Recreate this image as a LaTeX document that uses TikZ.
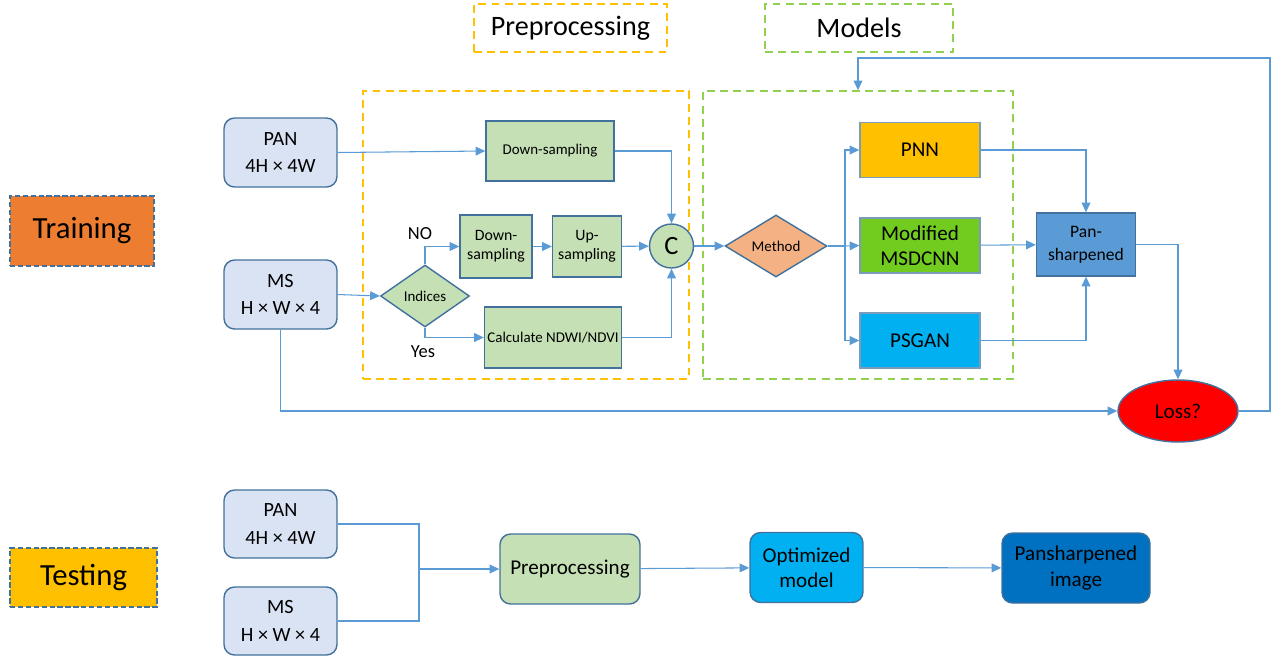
\documentclass[tikz,border=0pt]{standalone}
\usepackage{fontspec}
\setmainfont{Carlito}
\usetikzlibrary{positioning,arrows.meta,shapes.geometric,calc}

\definecolor{linkblue}{HTML}{5B9BD5}
\definecolor{edgeblue}{HTML}{41719C}
\definecolor{inputfill}{HTML}{DAE3F3}
\definecolor{stepfill}{HTML}{C5E0B4}
\definecolor{trainorange}{HTML}{ED7D31}
\definecolor{gold}{HTML}{FFC000}
\definecolor{leafgreen}{HTML}{92D050}
\definecolor{msdgreen}{HTML}{72CC20}
\definecolor{skyblue}{HTML}{00B0F0}
\definecolor{deepblue}{HTML}{0070C0}
\definecolor{methodfill}{HTML}{F4B183}

\begin{document}
\begin{tikzpicture}[
    x=0.02cm, y=-0.02cm,
    inputbox/.style={rectangle, draw=edgeblue, line width=0.8pt, fill=inputfill, rounded corners=6pt,
        minimum width=2.26cm, minimum height=1.38cm, align=center, font=\fontsize{11.5}{15.5}\selectfont},
    stepbox/.style={rectangle, draw=edgeblue, line width=0.8pt, fill=stepfill, align=center,
        font=\fontsize{8.5}{10}\selectfont, inner sep=1pt},
    modelbox/.style={rectangle, draw=edgeblue!70, line width=0.8pt, minimum width=2.4cm, minimum height=1.1cm,
        align=center, font=\fontsize{12}{14.5}\selectfont},
    testbox/.style={rectangle, draw=edgeblue, line width=0.8pt, rounded corners=6pt, minimum height=1.4cm,
        align=center, font=\fontsize{12}{14.5}\selectfont},
    phase/.style={rectangle, draw=edgeblue, line width=1pt, dash pattern=on 3pt off 1.5pt,
        font=\fontsize{17.5}{20}\selectfont},
    group/.style={rectangle, line width=0.9pt, dash pattern=on 4.5pt off 3pt, minimum height=5.76cm},
    header/.style={rectangle, line width=0.9pt, dash pattern=on 4.5pt off 3pt, minimum height=0.96cm,
        font=\fontsize{16}{18}\selectfont},
    arrow/.style={-{Triangle[length=5.5pt,width=5pt]}, draw=linkblue, line width=0.6pt},
    link/.style={draw=linkblue, line width=0.6pt}
]
\useasboundingbox (0,0) rectangle (1271,657);

% Phases
\node[phase, fill=trainorange, minimum width=2.88cm, minimum height=1.4cm] (train) at (82,231) {Training};
\node[phase, fill=gold, minimum width=2.94cm, minimum height=1.18cm] (test) at (83.5,577.5) {Testing};

% Headers and groups
\node[header, draw=gold, minimum width=3.86cm] (prephead) at (570.5,28) {Preprocessing};
\node[header, draw=leafgreen, minimum width=3.76cm] (modhead) at (859,28) {Models};
\node[group, draw=gold, minimum width=6.52cm] (prepgrp) at (526,235) {};
\node[group, draw=leafgreen, minimum width=6.2cm] (modgrp) at (858,235) {};

% Training inputs
\node[inputbox] (pantr) at (280.5,152.5) {PAN\\4H × 4W};
\node[inputbox] (mstr) at (280.5,294.5) {MS\\H × W × 4};

% Preprocessing
\node[stepbox, minimum width=2.56cm, minimum height=1.2cm] (dstop) at (550,151) {Down-sampling};
\node[stepbox, minimum width=1.44cm, minimum height=1.26cm, font=\fontsize{9}{10.5}\selectfont] (dsmid) at (496,246.5) {Down-\\sampling};
\node[stepbox, minimum width=1.38cm, minimum height=1.22cm, font=\fontsize{9}{10.5}\selectfont] (upmid) at (587,246.5) {Up-\\sampling};
\node[diamond, draw=edgeblue, line width=0.8pt, fill=stepfill, inner sep=0pt, minimum width=1.78cm,
    minimum height=1.24cm, font=\fontsize{8.5}{10}\selectfont] (indices) at (425,296) {Indices};
\node[stepbox, minimum width=2.74cm, minimum height=1.22cm] (calc) at (553,337.5) {Calculate NDWI/NDVI};
\node[circle, draw=edgeblue, line width=0.8pt, fill=stepfill, minimum size=0.88cm, inner sep=0pt,
    font=\fontsize{15}{17}\selectfont] (concat) at (671.5,246) {C};
\node[font=\fontsize{10.5}{12}\selectfont] (nolbl) at (420,234) {NO};
\node[font=\fontsize{10.5}{12}\selectfont] (yeslbl) at (423,352) {Yes};

% Models
\node[diamond, draw=edgeblue, line width=0.8pt, fill=methodfill, inner sep=0pt, minimum width=2.04cm,
    minimum height=1.24cm, font=\fontsize{8.5}{10}\selectfont] (method) at (776,246) {Method};
\node[modelbox, fill=gold] (pnn) at (920,150) {PNN};
\node[modelbox, fill=msdgreen] (msd) at (920,245.5) {Modified\\MSDCNN};
\node[modelbox, fill=skyblue] (psgan) at (920,340.5) {PSGAN};
\node[rectangle, draw=edgeblue, line width=0.8pt, fill=linkblue, minimum width=1.98cm, minimum height=1.26cm,
    align=center, font=\fontsize{10}{13}\selectfont] (pansh) at (1086,244.5) {Pan-\\sharpened};
\node[ellipse, draw=edgeblue, line width=0.8pt, fill=red, minimum width=2.4cm, minimum height=1.24cm,
    font=\fontsize{12}{14}\selectfont] (loss) at (1178,411) {Loss?};

% Training connectors
\draw[arrow] (pantr.east) -- (dstop.west);
\draw[arrow] (dstop.east) -| (concat.north);
\draw[arrow] (mstr.east) -- (indices.west);
\draw[arrow] (indices.north) |- (dsmid.west);
\draw[arrow] (dsmid) -- (upmid);
\draw[arrow] (upmid) -- (concat);
\draw[arrow] (indices.south) |- (calc.west);
\draw[arrow] (calc.east) -| (concat.south);
\draw[arrow] (concat) -- (method);
\coordinate (split) at (845,246);
\draw[link] (method.east) -- (split);
\draw[arrow] (split) |- (pnn.west);
\draw[arrow] (split) -- (msd.west);
\draw[arrow] (split) |- (psgan.west);
\draw[arrow] (pnn.east) -| (pansh.north);
\draw[arrow] (msd) -- (pansh);
\draw[arrow] (psgan.east) -| (pansh.south);
\draw[arrow] (pansh.east) -| (loss.north);
\draw[arrow] (mstr.south) |- (loss.west);
\coordinate (back) at (1270,58);
\draw[arrow] (loss.east) -| (back) -| (modgrp.north);

% Testing
\node[inputbox, minimum height=1.36cm] (panev) at (280.5,524) {PAN\\4H × 4W};
\node[inputbox, minimum height=1.36cm] (msev) at (280.5,621) {MS\\H × W × 4};
\node[testbox, fill=stepfill, minimum width=2.8cm] (prepev) at (570,569) {Preprocessing};
\node[testbox, fill=skyblue, minimum width=2.26cm] (optm) at (806.5,567.5) {Optimized\\model};
\node[testbox, fill=deepblue, minimum width=2.96cm] (pimg) at (1076,568) {Pansharpened\\image};
\coordinate (join) at (419,569);
\draw[link] (panev.east) -| (join);
\draw[link] (msev.east) -| (join);
\draw[arrow] (join) -- (prepev.west);
\draw[arrow] (prepev) -- (optm);
\draw[arrow] (optm) -- (pimg);

\end{tikzpicture}
\end{document}
